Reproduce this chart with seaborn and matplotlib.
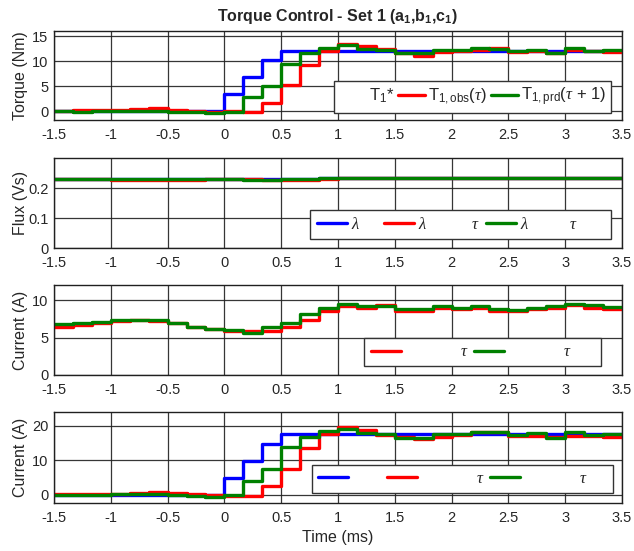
import numpy as np
import pandas as pd
import matplotlib
matplotlib.use("Agg")
import matplotlib.pyplot as plt
import seaborn as sns

# ---- sampled signals (one value per control period, Ts = 1/6 ms, starting at -1.5 ms) ----
T_START = -1.5
TS = 1.0 / 6.0

torque_ref = [0.0, 0.0, 0.0, 0.0, 0.0, 0.0, 0.0, 0.0, 0.0, 3.4,
              6.8, 10.2, 12.0, 12.0, 12.0, 12.0, 12.0, 12.0, 12.0, 12.0,
              12.0, 12.0, 12.0, 12.0, 12.0, 12.0, 12.0, 12.0, 12.0, 12.0]
torque_obs = [0.0, 0.2, 0.25, 0.25, 0.5, 0.6, 0.2, 0.1, -0.1, 0.0,
              -0.1, 1.6, 5.2, 9.2, 12.1, 13.5, 13.0, 12.4, 11.7, 11.1,
              11.8, 12.0, 12.3, 12.6, 11.8, 12.0, 11.7, 12.2, 12.0, 11.8]
torque_prd = [0.1, -0.1, 0.0, 0.1, 0.1, 0.0, -0.1, -0.2, -0.4, -0.2,
              2.9, 5.1, 9.5, 11.6, 12.7, 13.2, 12.4, 12.3, 11.7, 11.7,
              12.3, 12.2, 12.6, 12.5, 12.0, 12.3, 11.7, 12.6, 12.1, 12.2]

flux_ref = [0.230, 0.230, 0.230, 0.230, 0.230, 0.230, 0.230, 0.230, 0.230, 0.231,
            0.231, 0.231, 0.231, 0.231, 0.232, 0.232, 0.232, 0.232, 0.232, 0.232,
            0.232, 0.232, 0.232, 0.232, 0.232, 0.232, 0.232, 0.232, 0.232, 0.232]
flux_obs = [0.229, 0.229, 0.229, 0.228, 0.228, 0.228, 0.228, 0.228, 0.229, 0.229,
            0.229, 0.227, 0.227, 0.227, 0.229, 0.232, 0.232, 0.232, 0.232, 0.232,
            0.232, 0.232, 0.232, 0.232, 0.232, 0.232, 0.232, 0.232, 0.232, 0.232]
flux_prd = [0.229, 0.229, 0.229, 0.229, 0.229, 0.229, 0.229, 0.229, 0.229, 0.229,
            0.228, 0.228, 0.229, 0.229, 0.233, 0.232, 0.232, 0.232, 0.232, 0.232,
            0.232, 0.232, 0.232, 0.232, 0.232, 0.232, 0.232, 0.232, 0.232, 0.232]

imag_obs = [6.45, 6.67, 7.0, 7.25, 7.3, 7.2, 6.9, 6.4, 6.1, 5.9,
            5.9, 5.9, 6.45, 7.4, 8.5, 9.24, 9.0, 9.4, 8.6, 8.6,
            8.9, 8.76, 9.0, 8.6, 8.6, 8.8, 8.9, 9.3, 8.9, 8.76]
imag_prd = [6.76, 6.9, 7.1, 7.4, 7.35, 7.4, 6.9, 6.45, 6.13, 6.0,
            5.55, 6.45, 7.0, 8.1, 9.0, 9.47, 9.24, 9.24, 8.76, 8.76,
            9.24, 9.0, 9.2, 8.76, 8.67, 9.0, 9.2, 9.5, 9.3, 9.1]

itrq_ref = [0.0, 0.0, 0.0, 0.0, 0.0, 0.0, 0.0, 0.0, 0.0, 5.0,
            9.7, 14.6, 17.5, 17.5, 17.5, 17.5, 17.5, 17.5, 17.5, 17.5,
            17.5, 17.5, 17.5, 17.5, 17.5, 17.5, 17.5, 17.5, 17.5, 17.5]
itrq_obs = [0.2, 0.4, 0.2, 0.3, 0.6, 0.8, 0.5, 0.2, 0.0, -0.2,
            -0.2, 2.6, 7.5, 13.5, 17.5, 19.7, 18.9, 17.3, 16.8, 16.1,
            16.8, 17.3, 18.1, 18.3, 17.1, 17.1, 16.8, 17.1, 17.1, 16.8]
itrq_prd = [0.1, 0.0, 0.1, 0.2, 0.3, 0.2, 0.0, -0.2, -0.5, 0.0,
            4.0, 7.5, 13.8, 16.8, 18.5, 19.2, 17.8, 17.5, 16.6, 16.6,
            17.6, 17.5, 18.1, 18.1, 17.3, 17.8, 16.6, 18.1, 17.3, 17.5]

x_ticks = [-1.5, -1, -0.5, 0, 0.5, 1, 1.5, 2, 2.5, 3, 3.5]
x_tick_labels = ["-1.5", "-1", "-0.5", "0", "0.5", "1", "1.5", "2", "2.5", "3", "3.5"]

# legend labels (plain spaces keep the column layout of the entries)
torque_labels = [r"T$_1$*", r"T$_\mathregular{1,obs}$($\tau$)",
                 r"T$_\mathregular{1,prd}$($\tau$ + 1)"]
flux_labels = [r"$\lambda$" + " " * 5,
               r"$\lambda$" + " " * 10 + r"$\tau$",
               r"$\lambda$" + " " * 9 + r"$\tau$" + " " * 7]
imag_labels = [" " * 12 + r"$\tau$",
               " " * 12 + r"$\tau$" + " " * 6]
itrq_labels = [" " * 7 + r"$\,$",
               " " * 12 + r"$\tau$",
               " " * 12 + r"$\tau$" + " " * 5]

BLUE, RED, GREEN = "#0000FF", "#FF0000", "#008000"

sns.set_theme(style="white")
plt.rcParams["font.family"] = ["Liberation Sans", "DejaVu Sans"]
plt.rcParams["axes.unicode_minus"] = False
plt.rcParams["mathtext.fontset"] = "custom"
plt.rcParams["mathtext.rm"] = "Liberation Sans"
plt.rcParams["mathtext.it"] = "Liberation Serif:italic"
plt.rcParams["mathtext.bf"] = "Liberation Sans:bold"


def stairs_frame(values):
    """Edge times and held values for a zero-order-hold staircase."""
    n = len(values)
    t = T_START + TS * np.arange(n + 1)
    y = list(values) + [values[-1]]
    return pd.DataFrame({"t": t, "y": y})


def draw(ax, values, color):
    sns.lineplot(data=stairs_frame(values), x="t", y="y", ax=ax, color=color,
                 linewidth=2.4, drawstyle="steps-post", estimator=None,
                 sort=False, legend=False)
    return ax.lines[-1]


LEGEND_STYLE = dict(fontsize=12, handlelength=1.8, handletextpad=0.25,
                    columnspacing=0.3, borderpad=0.4, borderaxespad=0.0,
                    fancybox=False, framealpha=1, edgecolor="#333333")

fig = plt.figure(figsize=(6.34, 5.51), dpi=100)
L, W = 54 / 634, 568 / 634
panels = [
    (1 - 120 / 551, 89 / 551),
    (1 - 248 / 551, 90 / 551),
    (1 - 375 / 551, 90 / 551),
    (1 - 502.5 / 551, 90.5 / 551),
]
axes = [fig.add_axes([L, b, W, h]) for b, h in panels]

# Torque
ax = axes[0]
h_ref = draw(ax, torque_ref, BLUE)
h_obs = draw(ax, torque_obs, RED)
h_prd = draw(ax, torque_prd, GREEN)
ax.set_ylim(-1.75, 16)
ax.set_yticks([0, 5, 10, 15])
ax.set_ylabel("Torque (Nm)")
ax.set_title(r"Torque Control - Set 1 (a$_\mathbf{1}$,b$_\mathbf{1}$,c$_\mathbf{1}$)",
             fontsize=11.5, fontweight="bold", pad=7)
leg = ax.legend([h_ref, h_obs, h_prd], torque_labels,
                loc="lower right", bbox_to_anchor=(0.981, 0.079), ncol=3,
                **{**LEGEND_STYLE, "columnspacing": 0.25, "handlelength": 1.6,
                   "handletextpad": 0.2, "borderpad": 0.3})
leg.legend_handles[0].set_visible(False)

# Flux
ax = axes[1]
h_ref = draw(ax, flux_ref, BLUE)
h_obs = draw(ax, flux_obs, RED)
h_prd = draw(ax, flux_prd, GREEN)
ax.set_ylim(0, 0.3)
ax.set_yticks([0, 0.1, 0.2])
ax.set_yticklabels(["0", "0.1", "0.2"])
ax.set_ylabel("Flux (Vs)")
ax.legend([h_ref, h_obs, h_prd], flux_labels,
          loc="lower right", bbox_to_anchor=(0.981, 0.1), ncol=3,
          **LEGEND_STYLE)

# Magnetising current
ax = axes[2]
h_obs = draw(ax, imag_obs, RED)
h_prd = draw(ax, imag_prd, GREEN)
ax.set_ylim(0, 12)
ax.set_yticks([0, 5, 10])
ax.set_ylabel("Current (A)")
ax.legend([h_obs, h_prd], imag_labels,
          loc="lower right", bbox_to_anchor=(0.963, 0.1), ncol=2,
          **LEGEND_STYLE)

# Torque-producing current
ax = axes[3]
h_ref = draw(ax, itrq_ref, BLUE)
h_obs = draw(ax, itrq_obs, RED)
h_prd = draw(ax, itrq_prd, GREEN)
ax.set_ylim(-2.2, 24)
ax.set_yticks([0, 10, 20])
ax.set_ylabel("Current (A)")
ax.set_xlabel("Time (ms)", fontsize=11.5, labelpad=4)
ax.legend([h_ref, h_obs, h_prd], itrq_labels,
          loc="lower right", bbox_to_anchor=(0.984, 0.105), ncol=3,
          **LEGEND_STYLE)

for ax in axes:
    ax.set_xlim(-1.5, 3.5)
    ax.set_xticks(x_ticks)
    ax.set_xticklabels(x_tick_labels)
    ax.grid(True, color="#202020", linewidth=0.9, alpha=0.9)
    ax.set_axisbelow(True)
    for s in ax.spines.values():
        s.set_color("#202020")
        s.set_linewidth(1.0)
    ax.tick_params(axis="both", labelsize=10.5, direction="in", length=3,
                   colors="#202020", labelcolor="#262626")
    ax.tick_params(axis="x", pad=6)
    ax.tick_params(axis="y", pad=4)
    ax.yaxis.label.set_size(11.5)
    ax.yaxis.label.set_color("#262626")
    ax.yaxis.set_label_coords(-0.046, 0.5)
    if ax is not axes[3]:
        ax.set_xlabel("")

fig.savefig("out.png", dpi=100)
